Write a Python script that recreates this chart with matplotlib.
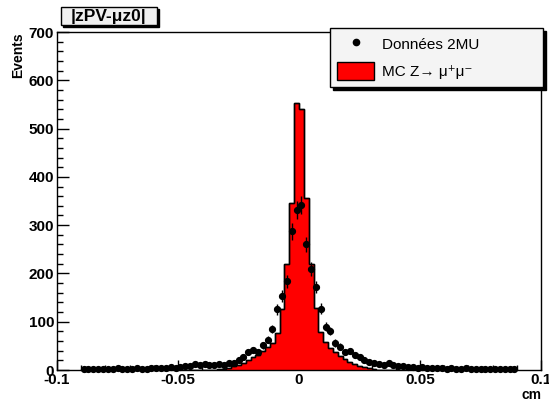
import numpy as np
import matplotlib
matplotlib.use("Agg")
import matplotlib.pyplot as plt
from matplotlib.lines import Line2D
from matplotlib.patches import Patch, Rectangle

plt.rcParams['font.family'] = ['Liberation Sans', 'DejaVu Sans']
plt.rcParams['axes.unicode_minus'] = False

# bins: 90 bins of 0.002 cm between -0.09 and 0.09
bin_edges = np.linspace(-0.09, 0.09, 91)
bin_centers = 0.5 * (bin_edges[:-1] + bin_edges[1:])

# data (Données 2MU), one value per bin
data_counts = [
    3, 2, 3, 2, 3, 3, 2, 4, 3, 2, 3, 4, 3, 3, 4,
    4, 5, 4, 6, 5, 7, 8, 9, 12, 11,
    12, 10, 11, 12, 11, 14, 15, 20, 26, 37,
    42, 37, 51, 63, 85, 126, 153, 184, 287,
    331,
    341, 260, 209, 172, 127, 90, 81, 56, 48, 38,
    40, 32, 27, 21, 17, 15, 13, 10, 15, 10,
    8, 9, 7, 6, 5, 7, 5, 4, 5,
    4, 3, 4, 3, 3, 4, 3, 2, 3, 3, 2, 3, 3, 2, 3, 2,
]

# MC Z -> mumu, same bins
mc_counts = [
    0, 0, 0, 0, 0, 0, 0, 0, 0, 0, 0, 0, 0,
    0, 0, 0, 0, 0, 0, 0, 0, 0, 0, 0, 0, 0,
    0, 1, 2, 3, 5, 8, 11, 15, 20, 26, 32, 40, 47, 56, 77, 126, 220, 345,
    553,
    540, 357, 220, 129, 79, 58, 45, 37, 30, 22, 17, 13, 9, 6, 4, 2, 1, 1,
    0, 0, 0, 0, 0, 0, 0, 0, 0, 0, 0, 0, 0, 0,
    0, 0, 0, 0, 0, 0, 0, 0, 0, 0, 0, 0, 0,
]

x_ticks = [-0.1, -0.05, 0, 0.05, 0.1]
x_tick_labels = ["-0.1", "-0.05", "0", "0.05", "0.1"]
y_ticks = [0, 100, 200, 300, 400, 500, 600, 700]

W, H = 549, 407
fig = plt.figure(figsize=(W / 100, H / 100), dpi=100)
fig.patch.set_facecolor("white")
ax = fig.add_axes([57 / W, 37 / H, 484 / W, 338 / H])

# MC histogram
ax.stairs(mc_counts, bin_edges, fill=True, facecolor="red",
          edgecolor="black", linewidth=1, zorder=2)
ax.stairs(mc_counts, bin_edges, color="black", linewidth=1, zorder=3)

# data points
data = np.array(data_counts, dtype=float)
ax.errorbar(bin_centers, data, yerr=np.sqrt(data), fmt="o", color="black",
            ms=4.2, elinewidth=1, capsize=0, zorder=4, clip_on=False)

ax.set_xlim(-0.1, 0.1)
ax.set_ylim(0, 700)
ax.set_xticks(x_ticks)
ax.set_xticklabels(x_tick_labels)
ax.set_xticks(np.arange(-0.09, 0.1, 0.01), minor=True)
ax.set_yticks(y_ticks)
ax.set_yticklabels([str(v) for v in y_ticks])
ax.set_yticks(np.arange(0, 701, 20), minor=True)

for lab in ax.get_xticklabels() + ax.get_yticklabels():
    lab.set_fontweight("bold")
    lab.set_fontsize(11)

ax.tick_params(axis="both", which="both", direction="in", top=False,
               right=False, width=1, colors="black")
ax.tick_params(axis="y", which="major", length=8.6, pad=2)
ax.tick_params(axis="y", which="minor", length=4.3)
ax.tick_params(axis="x", which="major", length=7.2, pad=2.5)
ax.tick_params(axis="x", which="minor", length=3.6)
for sp in ax.spines.values():
    sp.set_linewidth(1)

ax.set_ylabel("Events", fontsize=10, fontweight="bold", loc="top")
ax.yaxis.set_label_coords(-0.066, 1.0)
ax.set_xlabel("cm", fontsize=10, fontweight="bold", loc="right")
ax.xaxis.set_label_coords(1.0, -0.053)

# legend
handles = [
    Line2D([], [], marker="o", color="black", ls="none", ms=4.5),
    Patch(facecolor="red", edgecolor="black", linewidth=1),
]
labels = ["Données 2MU", "MC Z→ μ⁺μ⁻"]
leg = ax.legend(handles, labels, loc="upper left",
                bbox_to_anchor=(330 / W, 1 - 96 / H, 213 / W, 68 / H),
                bbox_transform=fig.transFigure, mode="expand",
                borderaxespad=0, fontsize=11, fancybox=False,
                framealpha=1, facecolor="#f4f4f4", edgecolor="black",
                handlelength=2.42, handleheight=1.5, handletextpad=0.52,
                labelspacing=0.52, borderpad=0.46,
                shadow={"color": "black", "alpha": 1.0})
leg.get_frame().set_linewidth(1)
leg.set_zorder(10)

# title box
fig.patches.append(Rectangle((63 / W, 1 - 27 / H), 96 / W, 18 / H,
                             transform=fig.transFigure, facecolor="black",
                             edgecolor="black", zorder=1))
fig.patches.append(Rectangle((61 / W, 1 - 25 / H), 96 / W, 18 / H,
                             transform=fig.transFigure, facecolor="#f0f0f0",
                             edgecolor="black", linewidth=1, zorder=2))
fig.text(109 / W, 1 - 16 / H, "|zPV-μz0|", ha="center", va="center",
         fontsize=12.5, fontweight="bold", zorder=3)

fig.savefig("out.png", dpi=100)
